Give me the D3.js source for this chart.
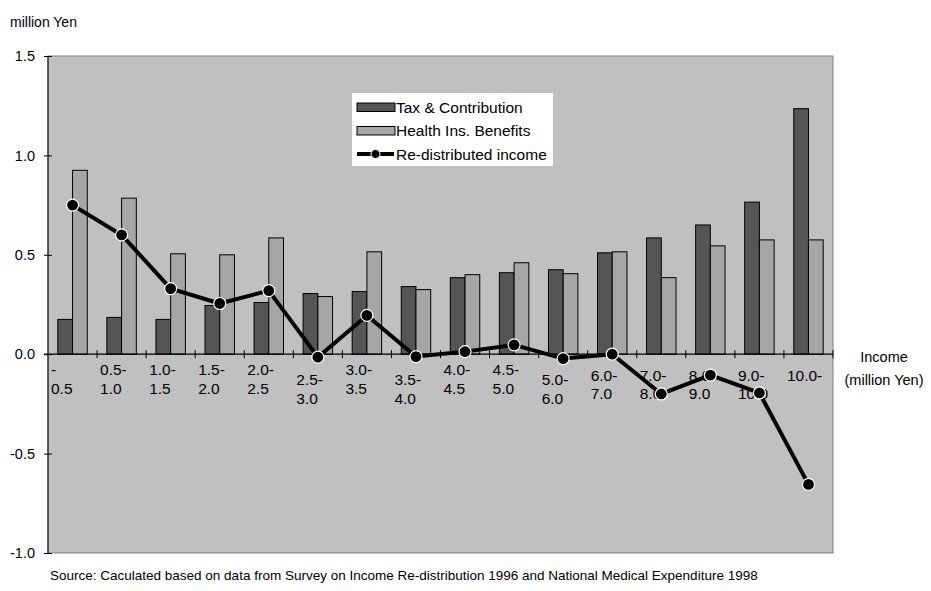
<!DOCTYPE html>
<html>
<head>
<meta charset="utf-8">
<script src="https://cdn.jsdelivr.net/npm/d3@7"></script>
<style>
  html, body { margin: 0; padding: 0; background: #ffffff; }
  svg { display: block; font-family: Arial, "Liberation Sans", sans-serif; }
</style>
</head>
<body>
<svg id="chart" width="931" height="591"></svg>
<script>
// ---- data ----
const categories = ["-0.5","0.5-1.0","1.0-1.5","1.5-2.0","2.0-2.5","2.5-3.0","3.0-3.5","3.5-4.0",
                    "4.0-4.5","4.5-5.0","5.0-6.0","6.0-7.0","7.0-8.0","8.0-9.0","9.0-10.0","10.0-"];
const seriesNames = ["Tax & Contribution","Health Ins. Benefits","Re-distributed income"];
const taxContribution = [0.175,0.185,0.175,0.245,0.26,0.305,0.315,0.34,0.385,0.41,0.425,0.51,0.585,0.65,0.765,1.235];
const healthBenefits  = [0.925,0.785,0.505,0.50,0.585,0.29,0.515,0.325,0.40,0.46,0.405,0.515,0.385,0.545,0.575,0.575];
const redistributed   = [0.75,0.60,0.33,0.255,0.32,-0.015,0.195,-0.012,0.013,0.047,-0.022,0.0,-0.20,-0.105,-0.195,-0.655];
const yTicks = [1.5,1.0,0.5,0.0,-0.5,-1.0];
const yTickLabels = ["1.5","1.0","0.5","0.0","-0.5","-1.0"];
const yAxisTitle = "million Yen";
const xAxisTitle = ["Income","(million Yen)"];
const sourceNote = "Source: Caculated based on data from Survey on Income Re-distribution 1996 and National Medical Expenditure 1998";

// ---- styling / layout (not data) ----
const labelLevel = [0,0,0,0,0,1,0,1,0,0,1,2,2,2,2,2]; // stagger level of category labels
const levelY = [[375,394],[385,404],[381,399]];
const colDark = "#555555", colLight = "#a6a6a6", plotBg = "#c0c0c0";

const svg = d3.select("#chart");
const pLeft = 48, pRight = 833, pTop = 56, pBottom = 553;

const y = d3.scaleLinear().domain([-1.0, 1.5]).range([pBottom, pTop]);
const x = d3.scaleBand().domain(categories).range([pLeft, pRight]).padding(0);
const bw = x.bandwidth();
const xSub = d3.scaleBand().domain([0,1]).range([bw*0.2, bw*0.8]).padding(0);

// plot area
svg.append("rect").attr("x", pLeft).attr("y", pTop).attr("width", pRight-pLeft).attr("height", pBottom-pTop)
  .attr("fill", plotBg).attr("stroke", "#808080").attr("stroke-width", 1);

// bars
const barData = [];
categories.forEach((c,i) => {
  barData.push({c, s:0, v: taxContribution[i]});
  barData.push({c, s:1, v: healthBenefits[i]});
});
svg.append("g").selectAll("rect").data(barData).join("rect")
  .attr("x", d => x(d.c) + xSub(d.s))
  .attr("y", d => y(Math.max(0,d.v)))
  .attr("width", xSub.bandwidth())
  .attr("height", d => Math.abs(y(d.v) - y(0)))
  .attr("fill", d => d.s === 0 ? colDark : colLight)
  .attr("stroke", "#000").attr("stroke-width", 1);

// y axis
const yAxis = d3.axisLeft(y).tickValues(yTicks).tickFormat((d,i) => yTickLabels[i]).tickSize(4).tickPadding(9);
const gy = svg.append("g").attr("transform", `translate(${pLeft},0)`).call(yAxis);
gy.select(".domain").attr("stroke","#000").attr("d", `M0,${pTop}V${pBottom}`);
gy.selectAll(".tick line").attr("x1",-4).attr("x2",4).attr("stroke","#000");
gy.selectAll(".tick text").attr("font-size",14.5).attr("font-family","Arial, 'Liberation Sans', sans-serif").attr("fill","#000");

// x axis at zero
const x0 = y(0);
svg.append("line").attr("x1", pLeft-4).attr("x2", pRight).attr("y1", x0).attr("y2", x0)
  .attr("stroke","#000").attr("stroke-width",1.2);
const boundaries = categories.map(c => x(c)).concat([x.range()[1]]);
svg.append("g").selectAll("line").data(boundaries.slice(1)).join("line")
  .attr("x1", d => d).attr("x2", d => d).attr("y1", x0-4).attr("y2", x0+4)
  .attr("stroke","#000").attr("stroke-width",1);

// category labels
const lab = svg.append("g").attr("font-size",15.5).attr("fill","#000");
categories.forEach((c,i) => {
  const k = c.indexOf("-");
  const lines = [c.slice(0,k+1), c.slice(k+1)].filter(s => s.length);
  lines.forEach((t,j) => {
    lab.append("text").attr("x", x(c) + 3).attr("y", levelY[labelLevel[i]][j]).text(t);
  });
});

// line series
const line = d3.line().x((d,i) => x(categories[i]) + bw/2).y(d => y(d));
svg.append("path").datum(redistributed).attr("d", line)
  .attr("fill","none").attr("stroke","#000").attr("stroke-width",4).attr("stroke-linejoin","round");
svg.append("g").selectAll("circle").data(redistributed).join("circle")
  .attr("cx", (d,i) => x(categories[i]) + bw/2).attr("cy", d => y(d)).attr("r", 6)
  .attr("fill","#000").attr("stroke","#fff").attr("stroke-width",1.2);

// legend
const lg = svg.append("g");
lg.append("rect").attr("x",352).attr("y",93).attr("width",201).attr("height",73).attr("fill","#fff");
[colDark, colLight].forEach((col,i) => {
  lg.append("rect").attr("x",357).attr("y",103 + i*23.5).attr("width",38).attr("height",8.5)
    .attr("fill",col).attr("stroke","#000").attr("stroke-width",1);
});
lg.append("line").attr("x1",357).attr("x2",394).attr("y1",154).attr("y2",154).attr("stroke","#000").attr("stroke-width",4);
lg.append("circle").attr("cx",375.5).attr("cy",154).attr("r",4.5).attr("fill","#000").attr("stroke","#fff").attr("stroke-width",1);
seriesNames.forEach((s,i) => {
  lg.append("text").attr("x",396).attr("y",112.5 + i*23.5).attr("font-size",15.5).attr("fill","#000").text(s);
});

// axis titles and source
svg.append("text").attr("x",10).attr("y",27).attr("font-size",14).attr("fill","#000").text(yAxisTitle);
xAxisTitle.forEach((t,i) => {
  svg.append("text").attr("x",884).attr("y",362 + i*23).attr("text-anchor","middle")
    .attr("font-size",14.5).attr("fill","#000").text(t);
});
svg.append("text").attr("x",50).attr("y",580).attr("font-size",13.5).attr("fill","#000").text(sourceNote);
</script>
</body>
</html>
